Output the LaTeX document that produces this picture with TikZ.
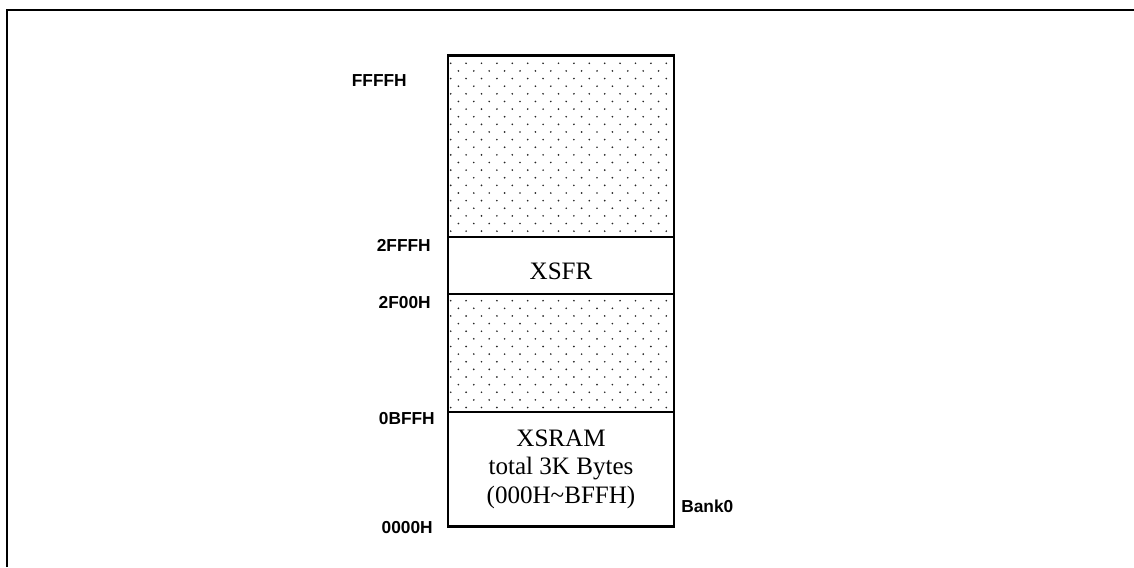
\documentclass[tikz,border=0pt]{standalone}
\usepackage{fontspec}
\setmainfont{Liberation Serif}
\newfontfamily\lsans{Liberation Sans}
\begin{document}
\begin{tikzpicture}[x=0.75pt,y=-0.75pt,
  addr/.style={font=\lsans\bfseries\fontsize{13}{14}\selectfont, inner sep=0pt},
  memtext/.style={font=\fontsize{18.8}{21.4}\selectfont, align=center, inner sep=0pt},
  wall/.style={line width=1.8pt},
  dotfill/.style={fill=black!85}]
\useasboundingbox (0,0) rectangle (1134,567);
% frame
\draw[line width=1.8pt] (7,567) -- (7,10) -- (1134,10);
% coordinates
\coordinate (tl) at (447.7,55.5);
\coordinate (br) at (674,526.5);
% dotted regions
\begin{scope}
\clip (447.7,55.5) rectangle (674,236.7);
\foreach \r in {0,...,24} \foreach \c in {0,...,15} {
  \fill[dotfill] ({450.7+\c*15.4+mod(\r,2)*7.7}, {63.3+\r*7.63}) circle (0.7pt);
}
\end{scope}
\begin{scope}
\clip (447.7,294) rectangle (674,412);
\foreach \r in {0,...,16} \foreach \c in {0,...,15} {
  \fill[dotfill] ({450.7+\c*15.4+mod(\r,2)*7.7}, {300.7+\r*7.63}) circle (0.7pt);
}
\end{scope}
% box and dividers
\draw[wall] (tl) rectangle (br);
\draw[wall] (447.7,236.7) -- (674,236.7);
\draw[wall] (447.7,294) -- (674,294);
\draw[wall] (447.7,412) -- (674,412);
% region texts
\node[memtext] (xsfr) at (561,271) {XSFR};
\node[memtext] (xsram) at (561,469) {XSRAM\\total 3K Bytes\\(000H\textasciitilde BFFH)};
% address labels
\node[addr, anchor=east] (a1) at (407,80.5) {FFFFH};
\node[addr, anchor=east] (a2) at (431,245) {2FFFH};
\node[addr, anchor=east] (a3) at (431,302.5) {2F00H};
\node[addr, anchor=east] (a4) at (435,419) {0BFFH};
\node[addr, anchor=east] (a5) at (433,528) {0000H};
\node[addr, anchor=west] (bank) at (681,506.5) {Bank0};
\end{tikzpicture}
\end{document}
